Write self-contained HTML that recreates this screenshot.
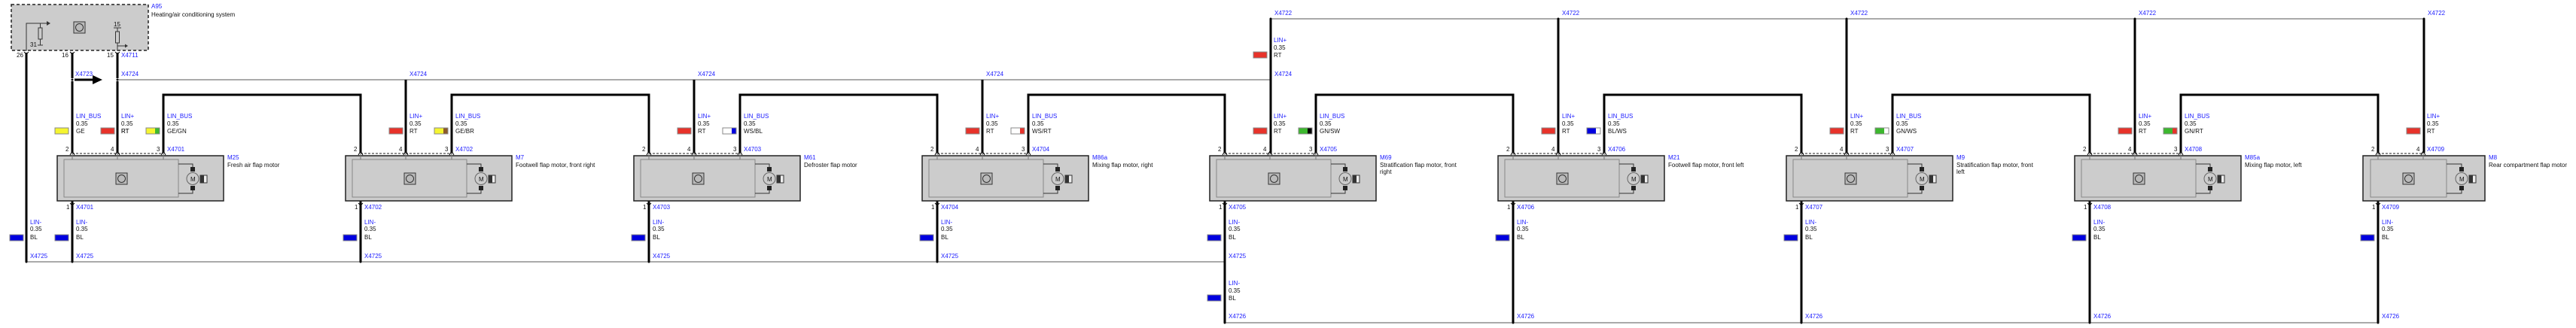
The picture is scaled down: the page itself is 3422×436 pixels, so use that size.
<!DOCTYPE html>
<html><head><meta charset="utf-8"><style>
body{margin:0;background:#fff}
svg{display:block}
text{font-family:"Liberation Sans",sans-serif;font-size:8px}
.b{fill:#1a1aff}.k{fill:#111}
.w{stroke:#000;stroke-width:3;fill:none}
.t{stroke:#555;stroke-width:1;fill:none}
.d{stroke:#222;stroke-width:1;stroke-dasharray:3 2;fill:none}
.sw{stroke:#888;stroke-width:1}
</style></head><body>
<svg width="3422" height="436" viewBox="0 0 3422 436" xmlns="http://www.w3.org/2000/svg">
<defs>
<g id="body">
<rect x="0" y="207" width="221" height="60" fill="#ccc" stroke="#222" stroke-width="1.5"/>
<rect x="9" y="212" width="152" height="50" fill="#ccc" stroke="#888"/>
<path d="M20 203V212M80 203V212M141 203V212" stroke="#777"/>
<path class="d" d="M20 204H141"/>
<rect x="78" y="230" width="15" height="15" fill="#bbb" stroke="#333"/>
<circle cx="85.5" cy="237.5" r="5" fill="none" stroke="#333"/>
<path d="M161 218H180V224M161 257H180V251" stroke="#333" fill="none"/>
<rect x="177" y="222" width="6" height="6" fill="#222"/><rect x="177" y="247" width="6" height="6" fill="#222"/>
<circle cx="180" cy="237.5" r="8" fill="#ccc" stroke="#666"/>
<text x="177" y="241" class="k" style="font-size:8px">M</text>
<rect x="190" y="233" width="9" height="10" fill="#eee" stroke="#333"/><rect x="190" y="233" width="5" height="10" fill="#333"/>
<path d="M17 206L20 201L23 206M77 206L80 201L83 206M138 206L141 201L144 206" stroke="#000" fill="none"/>
<path d="M17 270L20 273L23 270" stroke="#000" fill="none"/>
<text x="11" y="201" class="k">2</text><text x="71" y="201" class="k">4</text><text x="132" y="201" class="k">3</text>
<text x="12" y="278" class="k">1</text>
<text x="85" y="157" class="b">LIN+</text><text x="85" y="167" class="k">0.35</text><text x="85" y="177" class="k">RT</text>
<rect class="sw" x="58" y="170" width="18" height="8" fill="#e8322a"/>
<text x="146" y="157" class="b">LIN_BUS</text><text x="146" y="167" class="k">0.35</text>
<text x="25" y="298" class="b">LIN-</text><text x="25" y="307" class="k">0.35</text><text x="25" y="318" class="k">BL</text>
<rect class="sw" x="-3" y="312" width="18" height="8" fill="#0000e0"/>
</g>
</defs>

<!-- A95 -->
<rect x="15" y="6" width="182" height="61" fill="#ccc" stroke="#222" stroke-width="1.5" stroke-dasharray="4 3"/>
<path d="M35 68V31H63" stroke="#333" fill="none"/><path d="M62 28L67 31L62 34Z" fill="#333"/>
<rect x="51" y="37" width="5" height="15" fill="#ccc" stroke="#333"/><path d="M53.5 31V37M53.5 52V60M50 60H57" stroke="#333"/>
<text x="40" y="62" class="k">31</text>
<rect x="98" y="29" width="15" height="15" fill="#bbb" stroke="#333"/><circle cx="105.5" cy="36.5" r="5" fill="none" stroke="#333"/>
<text x="151" y="35" class="k">15</text>
<path d="M151 37H161M156 37V42M156 57V68M156 61H166" stroke="#333" fill="none"/><rect x="153.5" y="42" width="5" height="15" fill="#ccc" stroke="#333"/>
<path d="M166 58.5L170 61L166 63.5Z" fill="#333"/>
<text x="201" y="11" class="b">A95</text>
<text x="201" y="22" class="k">Heating/air conditioning system</text>
<text x="22" y="76" class="k">26</text><text x="82" y="76" class="k">16</text><text x="142" y="76" class="k">15</text>
<text x="161" y="76" class="b">X4711</text>
<path d="M32 69L35 72L38 69M93 69L96 72L99 69M153 69L156 72L159 69" stroke="#000" fill="none"/>

<!-- buses -->
<path class="t" d="M156 106H1688M1688 25H3220M35 348H1627M1627 429H3159"/>
<path d="M99 106H125" stroke="#000" stroke-width="3"/><path d="M123 100L136 106L123 112Z" fill="#000"/>
<g fill="#000"><circle cx="96" cy="106" r="1.5"/><circle cx="156" cy="106" r="1.5"/><circle cx="1688" cy="106" r="1.5"/><circle cx="1688" cy="25" r="1.5"/><circle cx="2070" cy="25" r="1.5"/><circle cx="2453" cy="25" r="1.5"/><circle cx="2836" cy="25" r="1.5"/><circle cx="3220" cy="25" r="1.5"/><circle cx="35" cy="348" r="1.5"/><circle cx="96" cy="348" r="1.5"/><circle cx="479" cy="348" r="1.5"/><circle cx="862" cy="348" r="1.5"/><circle cx="1245" cy="348" r="1.5"/><circle cx="1627" cy="348" r="1.5"/><circle cx="1627" cy="429" r="1.5"/><circle cx="2010" cy="429" r="1.5"/><circle cx="2393" cy="429" r="1.5"/><circle cx="2776" cy="429" r="1.5"/><circle cx="3159" cy="429" r="1.5"/></g>
<text x="100" y="101" class="b">X4723</text>
<text x="161" y="101" class="b">X4724</text><text x="544" y="101" class="b">X4724</text><text x="927" y="101" class="b">X4724</text><text x="1310" y="101" class="b">X4724</text><text x="1693" y="101" class="b">X4724</text>
<text x="1693" y="20" class="b">X4722</text><text x="2075" y="20" class="b">X4722</text><text x="2458" y="20" class="b">X4722</text><text x="2841" y="20" class="b">X4722</text><text x="3225" y="20" class="b">X4722</text>

<!-- wires -->
<path class="w" d="M35 70V348M96 70V104M96 108V203M156 70V104M156 108V203
M217 203V126H479V203 M600 203V126H862V203 M983 203V126H1245V203 M1366 203V126H1627V203 M1748 203V126H2010V203 M2131 203V126H2393V203 M2514 203V126H2776V203 M2897 203V126H3159V203
M539 106V203M922 106V203M1305 106V203M1688 25V203M2070 25V203M2453 25V203M2836 25V203M3220 25V203
M96 267V348M479 267V348M862 267V348M1245 267V348M1627 267V429M2010 267V429M2393 267V429M2776 267V429M3159 267V429"/>

<!-- left extra labels -->
<text x="40" y="298" class="b">LIN-</text><text x="40" y="307" class="k">0.35</text><text x="40" y="318" class="k">BL</text>
<rect class="sw" x="13" y="312" width="18" height="8" fill="#0000e0"/>
<text x="40" y="343" class="b">X4725</text>

<!-- motor 0 -->
<g transform="translate(76,0)"><use href="#body"/>
<text x="25" y="157" class="b">LIN_BUS</text><text x="25" y="167" class="k">0.35</text><text x="25" y="177" class="k">GE</text>
<rect class="sw" x="-3" y="170" width="18" height="8" fill="#f5f530"/>
<rect x="56" y="169" width="22" height="10" fill="#fff"/>
<text x="85" y="177" class="k">RT</text><rect class="sw" x="58" y="170" width="18" height="8" fill="#e8322a"/>
<text x="146" y="177" class="k">GE/GN</text><rect class="sw" x="118" y="170" width="18" height="8" fill="#f5f530"/><rect x="130" y="170.5" width="5.5" height="7" fill="#3cb82e"/>
<text x="146" y="201" class="b">X4701</text><text x="25" y="278" class="b">X4701</text>
<text x="226" y="212" class="b">M25</text><text x="226" y="222" class="k">Fresh air flap motor</text>
<text x="25" y="343" class="b">X4725</text></g>

<g transform="translate(459,0)"><use href="#body"/>
<text x="146" y="177" class="k">GE/BR</text><rect class="sw" x="118" y="170" width="18" height="8" fill="#f5f530"/><rect x="130" y="170.5" width="5.5" height="7" fill="#8b5a2b"/>
<text x="146" y="201" class="b">X4702</text><text x="25" y="278" class="b">X4702</text>
<text x="226" y="212" class="b">M7</text><text x="226" y="222" class="k">Footwell flap motor, front right</text>
<text x="25" y="343" class="b">X4725</text></g>

<g transform="translate(842,0)"><use href="#body"/>
<text x="146" y="177" class="k">WS/BL</text><rect class="sw" x="118" y="170" width="18" height="8" fill="#fff"/><rect x="130" y="170.5" width="5.5" height="7" fill="#0000e0"/>
<text x="146" y="201" class="b">X4703</text><text x="25" y="278" class="b">X4703</text>
<text x="226" y="212" class="b">M61</text><text x="226" y="222" class="k">Defroster flap motor</text>
<text x="25" y="343" class="b">X4725</text></g>

<g transform="translate(1225,0)"><use href="#body"/>
<text x="146" y="177" class="k">WS/RT</text><rect class="sw" x="118" y="170" width="18" height="8" fill="#fff"/><rect x="130" y="170.5" width="5.5" height="7" fill="#e8322a"/>
<text x="146" y="201" class="b">X4704</text><text x="25" y="278" class="b">X4704</text>
<text x="226" y="212" class="b">M86a</text><text x="226" y="222" class="k">Mixing flap motor, right</text>
<text x="25" y="343" class="b">X4725</text></g>

<g transform="translate(1607,0)"><use href="#body"/>
<text x="146" y="177" class="k">GN/SW</text><rect class="sw" x="118" y="170" width="18" height="8" fill="#3cb82e"/><rect x="130" y="170.5" width="5.5" height="7" fill="#000"/>
<text x="146" y="201" class="b">X4705</text><text x="25" y="278" class="b">X4705</text>
<text x="226" y="212" class="b">M69</text><text x="226" y="222" class="k">Stratification flap motor, front</text><text x="226" y="231" class="k">right</text>
<text x="25" y="343" class="b">X4725</text>
<text x="85" y="56" class="b">LIN+</text><text x="85" y="66" class="k">0.35</text><text x="85" y="76" class="k">RT</text>
<rect class="sw" x="58" y="69" width="18" height="8" fill="#e8322a"/>
<text x="25" y="379" class="b">LIN-</text><text x="25" y="389" class="k">0.35</text><text x="25" y="399" class="k">BL</text>
<rect class="sw" x="-3" y="392" width="18" height="8" fill="#0000e0"/>
<text x="25" y="423" class="b">X4726</text></g>

<g transform="translate(1990,0)"><use href="#body"/>
<text x="146" y="177" class="k">BL/WS</text><rect class="sw" x="118" y="170" width="18" height="8" fill="#0000e0"/><rect x="130" y="170.5" width="5.5" height="7" fill="#fff"/>
<text x="146" y="201" class="b">X4706</text><text x="25" y="278" class="b">X4706</text>
<text x="226" y="212" class="b">M21</text><text x="226" y="222" class="k">Footwell flap motor, front left</text>
<text x="25" y="423" class="b">X4726</text></g>

<g transform="translate(2373,0)"><use href="#body"/>
<text x="146" y="177" class="k">GN/WS</text><rect class="sw" x="118" y="170" width="18" height="8" fill="#3cb82e"/><rect x="130" y="170.5" width="5.5" height="7" fill="#fff"/>
<text x="146" y="201" class="b">X4707</text><text x="25" y="278" class="b">X4707</text>
<text x="226" y="212" class="b">M9</text><text x="226" y="222" class="k">Stratification flap motor, front</text><text x="226" y="231" class="k">left</text>
<text x="25" y="423" class="b">X4726</text></g>

<g transform="translate(2756,0)"><use href="#body"/>
<text x="146" y="177" class="k">GN/RT</text><rect class="sw" x="118" y="170" width="18" height="8" fill="#3cb82e"/><rect x="130" y="170.5" width="5.5" height="7" fill="#e8322a"/>
<text x="146" y="201" class="b">X4708</text><text x="25" y="278" class="b">X4708</text>
<text x="226" y="212" class="b">M85a</text><text x="226" y="222" class="k">Mixing flap motor, left</text>
<text x="25" y="423" class="b">X4726</text></g>

<!-- M8 -->
<g transform="translate(3139,0)">
<rect x="0" y="207" width="162" height="60" fill="#ccc" stroke="#222" stroke-width="1.5"/>
<rect x="10" y="212" width="101" height="50" fill="#ccc" stroke="#888"/>
<path d="M20 203V212M80 203V212" stroke="#777"/>
<path class="d" d="M20 204H80"/>
<rect x="53" y="230" width="15" height="15" fill="#bbb" stroke="#333"/><circle cx="60.5" cy="237.5" r="5" fill="none" stroke="#333"/>
<path d="M111 218H131V224M111 257H131V251" stroke="#333" fill="none"/>
<rect x="128" y="222" width="6" height="6" fill="#222"/><rect x="128" y="247" width="6" height="6" fill="#222"/>
<circle cx="131" cy="237.5" r="8" fill="#ccc" stroke="#666"/><text x="128" y="241" class="k">M</text>
<rect x="141" y="233" width="9" height="10" fill="#eee" stroke="#333"/><rect x="141" y="233" width="5" height="10" fill="#333"/>
<path d="M17 206L20 201L23 206M77 206L80 201L83 206M17 270L20 273L23 270" stroke="#000" fill="none"/>
<text x="11" y="201" class="k">2</text><text x="71" y="201" class="k">4</text><text x="12" y="278" class="k">1</text>
<text x="85" y="201" class="b">X4709</text><text x="25" y="278" class="b">X4709</text>
<text x="85" y="157" class="b">LIN+</text><text x="85" y="167" class="k">0.35</text><text x="85" y="177" class="k">RT</text>
<rect class="sw" x="58" y="170" width="18" height="8" fill="#e8322a"/>
<text x="25" y="298" class="b">LIN-</text><text x="25" y="307" class="k">0.35</text><text x="25" y="318" class="k">BL</text>
<rect class="sw" x="-3" y="312" width="18" height="8" fill="#0000e0"/>
<text x="167" y="212" class="b">M8</text><text x="167" y="222" class="k">Rear compartment flap motor</text>
<text x="25" y="423" class="b">X4726</text></g>
</svg>
</body></html>
